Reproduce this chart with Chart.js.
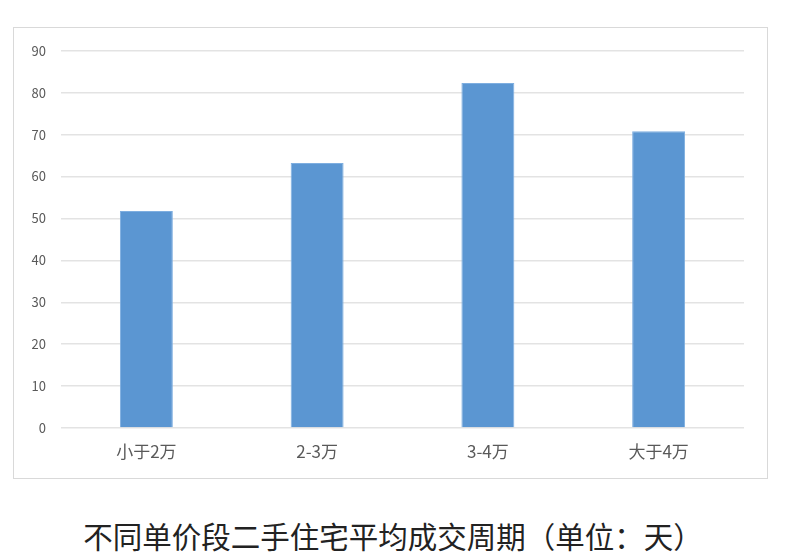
<!DOCTYPE html>
<html>
<head>
<meta charset="utf-8">
<script src="https://cdn.jsdelivr.net/npm/chart.js@4/dist/chart.umd.min.js"></script>
<style>
  body { margin: 0; background: #fff; width: 786px; height: 555px; position: relative; overflow: hidden; }
  #box { position: absolute; left: 13px; top: 27px; width: 753px; height: 450px; border: 1px solid #d9d9d9; }
  #caption { position: absolute; left: 0; top: 515px; width: 786px; text-align: center;
    font-family: "Noto Sans CJK SC", sans-serif; font-size: 29.5px; line-height: 40px; color: #222; }
</style>
</head>
<body>
<div id="box"><canvas id="chart" width="753" height="450"></canvas></div>
<div id="caption">不同单价段二手住宅平均成交周期（单位：天）</div>
<script>
// 数据
var categorias = ['小于2万', '2-3万', '3-4万', '大于4万'];
var valores = [51.8, 63.2, 82.3, 70.8];
var yMax = 90;
var yPasso = 10;

var ctx = document.getElementById('chart').getContext('2d');
var fonteY = { family: '"Noto Sans CJK SC", "DejaVu Sans", sans-serif', size: 13 };
var fonteX = { family: '"Noto Sans CJK SC", "DejaVu Sans", sans-serif', size: 17 };

var grafico = new Chart(ctx, {
    type: 'bar',
    data: {
        labels: categorias,
        datasets: [{
            data: valores,
            backgroundColor: '#5b96d2',
            borderColor: '#7eaee0',
            borderWidth: 1,
            barPercentage: 0.62,
            categoryPercentage: 0.5
        }]
    },
    options: {
        responsive: false,
        animation: false,
        layout: { padding: { top: 21, right: 23, bottom: 0, left: 0 } },
        plugins: {
            legend: { display: false },
            tooltip: { enabled: false }
        },
        scales: {
            x: {
                grid: { display: false, drawTicks: false },
                border: { display: false },
                ticks: { color: '#595959', font: fonteX, padding: 13 },
                afterFit: function(s) { s.height = 50; }
            },
            y: {
                min: 0,
                max: yMax,
                grid: { color: '#e3e3e3', lineWidth: 1.5, drawTicks: false },
                border: { display: false },
                ticks: { stepSize: yPasso, color: '#595959', font: fonteY, padding: 15 },
                afterFit: function(s) { s.width = 47; }
            }
        }
    }
});
</script>
</body>
</html>
